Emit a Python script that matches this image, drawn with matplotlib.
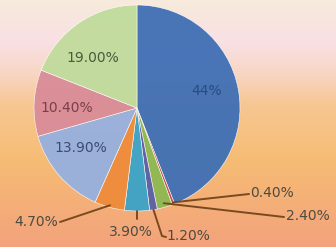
import numpy as np
import matplotlib.pyplot as plt
from matplotlib.colors import LinearSegmentedColormap

# slice values, clockwise from the top
values = [44, 0.40, 2.40, 1.20, 3.90, 4.70, 13.90, 10.40, 19.00]
labels = ['44%', '0.40%', '2.40%', '1.20%', '3.90%', '4.70%', '13.90%', '10.40%', '19.00%']
colors = ['#3F6FB5', '#C0504D', '#8DB852', '#5A5FA8', '#3AA3C8',
          '#EE8B3A', '#96B0DF', '#D98C98', '#C0DB9C']

W, H = 336, 247
CX, CY, R = 137, 108, 103  # pie centre / radius in pixels


def px(x, y):
    """pixel position -> data units (pie radius = 1)"""
    return (x - CX) / R, (CY - y) / R


fig = plt.figure(figsize=(W / 100, H / 100), dpi=100)
ax = fig.add_axes([0, 0, 1, 1])
x0, y1 = px(0, 0)
x1, y0 = px(W, H)
ax.set_xlim(x0, x1)
ax.set_ylim(y0, y1)
ax.set_aspect('equal')
ax.axis('off')

# warm background gradient, white/pink at top to orange at bottom
bg = LinearSegmentedColormap.from_list('bg', [
    (0.00, '#F7EADB'), (0.17, '#F9E0E4'), (0.30, '#F8D6C4'),
    (0.42, '#F7C793'), (0.65, '#F6BC74'), (1.00, '#F3A27C')])
grad = np.linspace(0, 1, 256).reshape(-1, 1)
ax.imshow(grad, cmap=bg, extent=[x0, x1, y0, y1], aspect='auto',
          origin='upper', zorder=0)

wedges, _ = ax.pie(values, colors=colors, startangle=90, counterclock=False,
                   radius=1, center=(0, 0), frame=True,
                   wedgeprops=dict(edgecolor='#ffffff', linewidth=0.4, alpha=0.95))
ax.set_xlim(x0, x1)
ax.set_ylim(y0, y1)
ax.axis('off')

txt = dict(fontsize=10, color='#4F4B40', va='center')


def edge(i, frac=0.5, r=1.0):
    w = wedges[i]
    a = np.deg2rad(w.theta1 + (w.theta2 - w.theta1) * frac)
    return r * np.cos(a), r * np.sin(a)


# inside labels
inside = {0: (207, 91), 8: (93, 58), 7: (67, 108), 6: (81, 148)}
inside_col = {0: '#2A4A80', 8: '#4A5A3A', 7: '#7A3F4A', 6: '#3A4C78'}
for i, (x, y) in inside.items():
    ax.text(*px(x, y), labels[i], ha='center', color=inside_col[i],
            fontsize=10, va='center', zorder=5)

line = dict(color='#7A4A1E', lw=1.4, zorder=4, solid_capstyle='round')

# 0.40%
sx, sy = edge(1, r=0.98)
ex, ey = px(249, 194)
ax.plot([sx, ex], [sy, ey], **line)
ax.text(*px(250, 193), labels[1], ha='left', **txt)

# 2.40%
sx, sy = edge(2, r=0.96)
ex, ey = px(284, 217)
ax.plot([sx, ex], [sy, ey], **line)
ax.text(*px(286, 216), labels[2], ha='left', **txt)

# 1.20%
sx, sy = edge(3, r=1.0)
mx, my = px(162, 236)
ex, ey = px(166, 237)
ax.plot([sx, mx, ex], [sy, my, ey], **line)
ax.text(*px(166, 236), labels[3], ha='left', **txt)

# 3.90%
sx, sy = edge(4, r=1.0)
ax.plot([sx, sx], [sy, sy - 0.08], **line)
ax.text(*px(131, 232), labels[4], ha='center', **txt)

# 4.70%
sx, sy = edge(5, r=0.98)
ex, ey = px(60, 222)
ax.plot([sx, ex], [sy, ey], **line)
ax.text(*px(58, 222), labels[5], ha='right', **txt)

fig.savefig('out.png', dpi=100)
